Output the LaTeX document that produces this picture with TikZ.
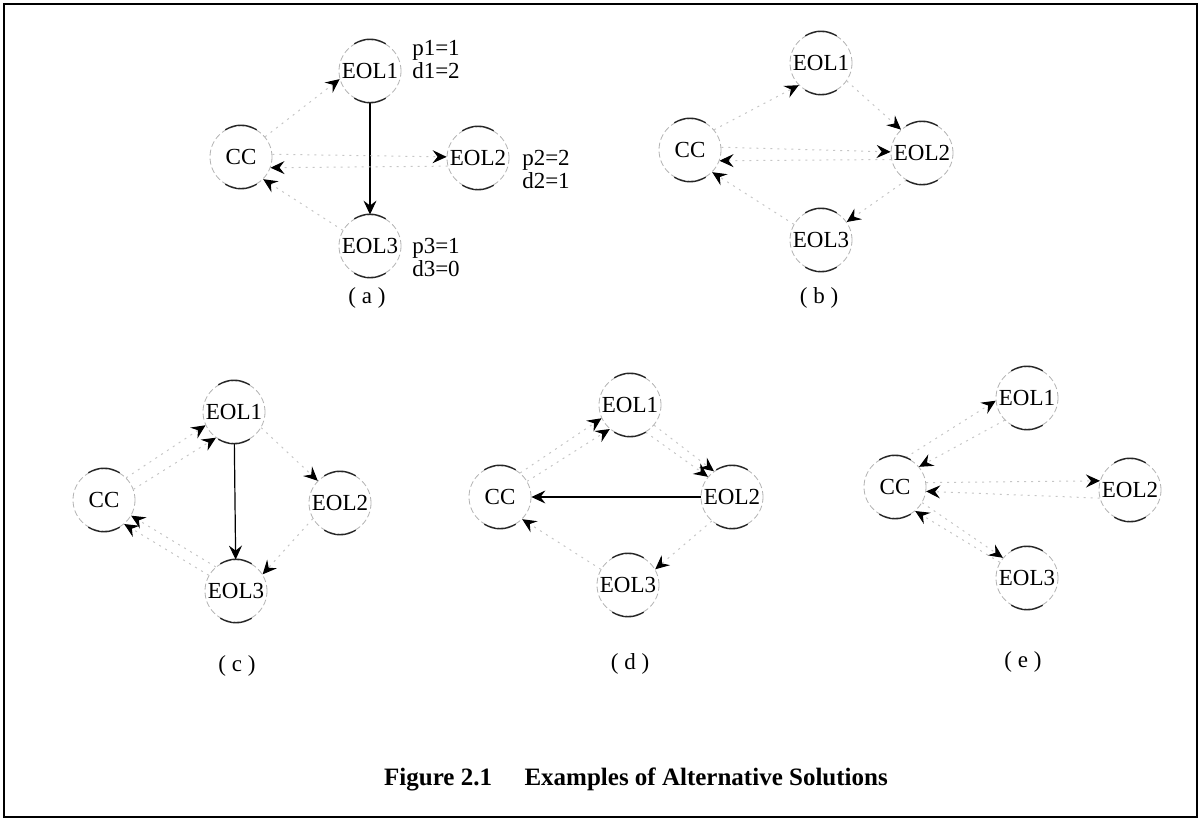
\documentclass[tikz,border=0pt]{standalone}
\usepackage{fontspec}
\setmainfont{Liberation Serif}
\usetikzlibrary{arrows.meta,positioning}

\begin{document}
\begin{tikzpicture}[
    x=0.5pt, y=-0.5pt,
    site/.style={circle, draw=gray!60, dash pattern=on 3pt off 1.5pt, minimum size=31pt,
                 inner sep=0pt, font=\fontsize{11.5}{13}\selectfont},
    info/.style={font=\fontsize{11.5}{11.5}\selectfont, align=left},
    sublabel/.style={font=\fontsize{11.5}{13}\selectfont},
    rim/.style={line width=0.7pt, black!85},
    arrow/.style={-{Stealth[length=7pt, width=6.5pt, inset=2.5pt]}, line width=0.6pt},
    dotarrow/.style={-{Stealth[length=7pt, width=6.5pt, inset=2.5pt, color=black]}, gray!45,
                     dash pattern=on 1pt off 2.5pt, line width=0.5pt},
]
\useasboundingbox (0,0) rectangle (1200,822);
\draw[line width=0.9pt] (4,4) rectangle (1197,817);

% (a)
\node[site] (a-e1) at (370,71) {EOL1};
\node[site] (a-cc) at (241,157) {CC};
\node[site] (a-e2) at (478,158) {EOL2};
\node[site] (a-e3) at (370,246) {EOL3};
\node[info] at (436,60) {p1=1\\d1=2};
\node[info] at (546,170) {p2=2\\d2=1};
\node[info] at (436,258) {p3=1\\d3=0};
\node[sublabel] at (367,298) {( a )};

\draw[arrow] (a-e1) -- (a-e3);
\draw[dotarrow] (a-cc.40) -- (a-e1.195);
\draw[dotarrow] (a-cc.5) -- (a-e2.178);
\draw[dotarrow] (a-e2.195) -- (a-cc.-20);
\draw[dotarrow] (a-e3.150) -- (a-cc.-45);

% (b)
\node[site] (b-e1) at (821,63) {EOL1};
\node[site] (b-cc) at (690,150) {CC};
\node[site] (b-e2) at (922,153) {EOL2};
\node[site] (b-e3) at (821,240) {EOL3};
\node[sublabel] at (819,298) {( b )};

\draw[dotarrow] (b-cc.40) -- (b-e1.225);
\draw[dotarrow] (b-cc.5) -- (b-e2.178);
\draw[dotarrow] (b-e1.-35) -- (b-e2.132);
\draw[dotarrow] (b-e2.-120) -- (b-e3.35);
\draw[dotarrow] (b-e2.192) -- (b-cc.-20);
\draw[dotarrow] (b-e3.150) -- (b-cc.-45);

% (c)
\node[site] (c-cc) at (104,500) {CC};
\node[site] (c-e1) at (234,412) {EOL1};
\node[site] (c-e2) at (340,503) {EOL2};
\node[site] (c-e3) at (236,591) {EOL3};
\node[sublabel] at (237,666) {( c )};

\draw[arrow] (c-e1) -- (c-e3);
\draw[dotarrow] (c-cc.45) -- (c-e1.205);
\draw[dotarrow] (c-cc.20) -- (c-e1.235);
\draw[dotarrow] (c-e3.130) -- (c-cc.-30);
\draw[dotarrow] (c-e3.150) -- (c-cc.-50);
\draw[dotarrow] (c-e1.-30) -- (c-e2.135);
\draw[dotarrow] (c-e2.-150) -- (c-e3.32);

% (d)
\node[site] (d-cc) at (500,497) {CC};
\node[site] (d-e1) at (630,405) {EOL1};
\node[site] (d-e2) at (732,497) {EOL2};
\node[site] (d-e3) at (628,585) {EOL3};
\node[sublabel] at (630,664) {( d )};

\draw[arrow] (d-e2) -- (d-cc);
\draw[dotarrow] (d-cc.50) -- (d-e1.205);
\draw[dotarrow] (d-cc.30) -- (d-e1.230);
\draw[dotarrow] (d-e1.-40) -- (d-e2.125);
\draw[dotarrow] (d-e1.-60) -- (d-e2.140);
\draw[dotarrow] (d-e3.150) -- (d-cc.-45);
\draw[dotarrow] (d-e2.-130) -- (d-e3.30);

% (e)
\node[site] (e-cc) at (895,487) {CC};
\node[site] (e-e1) at (1027,398) {EOL1};
\node[site] (e-e2) at (1130,490) {EOL2};
\node[site] (e-e3) at (1027,578) {EOL3};
\node[sublabel] at (1023,662) {( e )};

\draw[dotarrow] (e-cc.70) -- (e-e1.185);
\draw[dotarrow] (e-e1.225) -- (e-cc.40);
\draw[dotarrow] (e-cc.8) -- (e-e2.163);
\draw[dotarrow] (e-e2.195) -- (e-cc.-8);
\draw[dotarrow] (e-e3.150) -- (e-cc.-50);
\draw[dotarrow] (e-cc.-30) -- (e-e3.140);

% dark top and bottom rims of the circles
\foreach \n in {a-cc,a-e1,a-e2,a-e3,b-cc,b-e1,b-e2,b-e3,c-cc,c-e1,c-e2,c-e3,
                d-cc,d-e1,d-e2,d-e3,e-cc,e-e1,e-e2,e-e3} {
  \draw[rim] (\n.60) to[bend right=30] (\n.120);
  \draw[rim] (\n.-60) to[bend left=30] (\n.-120);
}

\node[font=\bfseries\fontsize{12.5}{14}\selectfont] (title) at (636,779)
  {Figure 2.1\hspace{1.3em}Examples of Alternative Solutions};

\end{tikzpicture}
\end{document}
